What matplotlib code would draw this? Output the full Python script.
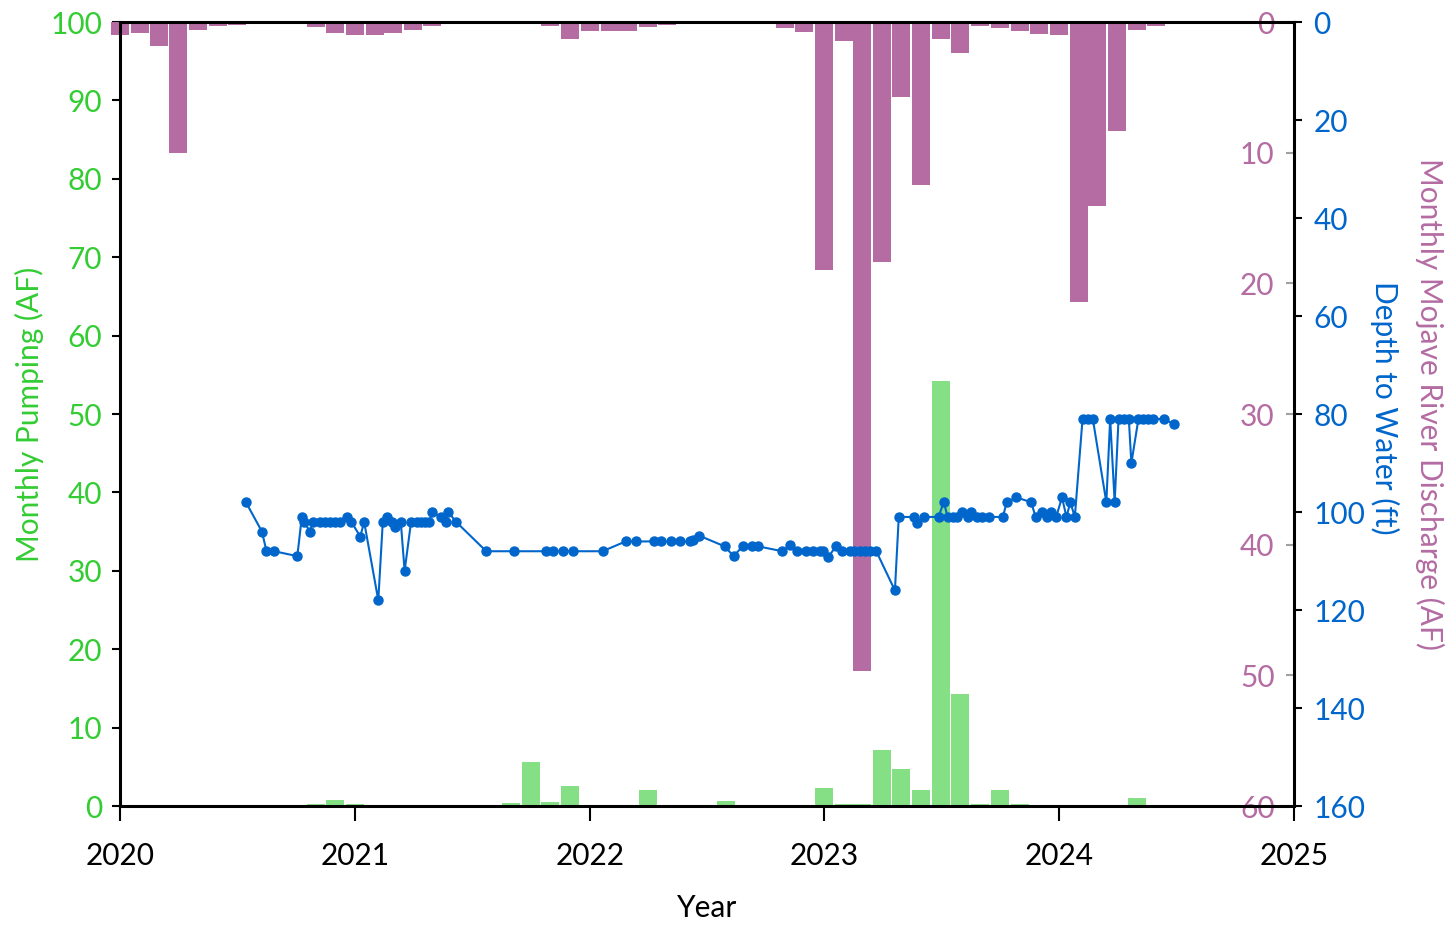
import numpy as np
import pandas as pd
import matplotlib
matplotlib.use("Agg")
import matplotlib.pyplot as plt
import matplotlib.dates as mdates

plt.rcParams['font.family'] = ['Lato', 'DejaVu Sans']

# monthly totals, Jan 2020 - Jun 2024
months = pd.date_range('2020-01-01', '2024-06-01', freq='MS')

pumping = [
    0, 0, 0, 0, 0, 0, 0, 0, 0, 0, 0.2, 0.73,           # 2020
    0.2, 0, 0, 0, 0, 0, 0, 0, 0.35, 5.6, 0.47, 2.5,     # 2021
    0, 0, 0, 2.1, 0, 0, 0, 0.6, 0, 0, 0, 0,             # 2022
    2.25, 0.2, 0.3, 7.2, 4.7, 2.1, 54.2, 14.25, 0.2, 2.0, 0.2, 0,  # 2023
    0, 0, 0, 0, 1.0, 0,                                 # 2024
]

discharge = [
    1.0, 0.8, 1.8, 10.0, 0.6, 0.3, 0.2, 0.05, 0.05, 0.05, 0.4, 0.8,
    1.0, 1.0, 0.8, 0.6, 0.3, 0.05, 0.05, 0.05, 0.05, 0.05, 0.3, 1.33,
    0.66, 0.66, 0.66, 0.4, 0.2, 0.05, 0.05, 0.05, 0.05, 0.05, 0.43, 0.74,
    19.0, 1.43, 49.7, 18.4, 5.7, 12.45, 1.27, 2.4, 0.28, 0.43, 0.66, 0.9,
    0.97, 21.4, 14.05, 8.3, 0.59, 0.28,
]

# depth to water measurements (ft)
dtw_dates = [
    '2020-07-15', '2020-08-09', '2020-08-16', '2020-08-28', '2020-10-03', '2020-10-10',
    '2020-10-13', '2020-10-23', '2020-10-27', '2020-11-07', '2020-11-15', '2020-11-23',
    '2020-11-30', '2020-12-08', '2020-12-19', '2020-12-26', '2021-01-09', '2021-01-15',
    '2021-02-06', '2021-02-13', '2021-02-20', '2021-02-27', '2021-03-04', '2021-03-13',
    '2021-03-19', '2021-03-29', '2021-04-07', '2021-04-14', '2021-04-19', '2021-04-26',
    '2021-05-01', '2021-05-14', '2021-05-22', '2021-05-26', '2021-06-07', '2021-07-24',
    '2021-09-05', '2021-10-25', '2021-11-05', '2021-11-20', '2021-12-06', '2022-01-21',
    '2022-02-26', '2022-03-14', '2022-04-11', '2022-04-22', '2022-05-07', '2022-05-21',
    '2022-06-06', '2022-06-11', '2022-06-20', '2022-07-30', '2022-08-13', '2022-08-27',
    '2022-09-11', '2022-09-20', '2022-10-28', '2022-11-09', '2022-11-19', '2022-12-04',
    '2022-12-15', '2022-12-25', '2022-12-30', '2023-01-07', '2023-01-20', '2023-01-28',
    '2023-02-10', '2023-02-17', '2023-02-25', '2023-03-05', '2023-03-13', '2023-03-23',
    '2023-04-21', '2023-04-27', '2023-05-20', '2023-05-26', '2023-06-06', '2023-06-28',
    '2023-07-06', '2023-07-12', '2023-07-20', '2023-07-26', '2023-08-04', '2023-08-12',
    '2023-08-18', '2023-08-26', '2023-09-04', '2023-09-15', '2023-10-06', '2023-10-12',
    '2023-10-27', '2023-11-19', '2023-11-26', '2023-12-06', '2023-12-14', '2023-12-20',
    '2023-12-28', '2024-01-06', '2024-01-13', '2024-01-19', '2024-01-26', '2024-02-07',
    '2024-02-15', '2024-02-23', '2024-03-15', '2024-03-21', '2024-03-28', '2024-04-03',
    '2024-04-11', '2024-04-19', '2024-04-23', '2024-05-04', '2024-05-11', '2024-05-19',
    '2024-05-26', '2024-06-12', '2024-06-28',
]
dtw = [
    98, 104, 108, 108, 109, 101,
    102, 104, 102, 102, 102, 102,
    102, 102, 101, 102, 105, 102,
    118, 102, 101, 102, 103, 102,
    112, 102, 102, 102, 102, 102,
    100, 101, 102, 100, 102, 108,
    108, 108, 108, 108, 108, 108,
    106, 106, 106, 106, 106, 106,
    106, 105.7, 104.8, 107, 109, 107,
    107, 107, 108, 106.8, 108, 108,
    108, 108, 108, 109.2, 106.9, 108,
    108, 108, 108, 108, 108, 108,
    116, 101, 101, 102.2, 101, 101,
    97.9, 101, 101, 101, 100, 101,
    100, 101, 101, 101, 101, 98,
    97, 98, 101, 100, 101, 100,
    101, 97, 101, 98, 101, 81,
    81, 81, 98, 81, 98, 81,
    81, 81, 90, 81, 81, 81,
    81, 81, 82,
]

green = '#85E085'
purple = '#B46CA3'
blue = '#0066CC'
green_txt = '#33CC33'
fs = 21.5

fig = plt.figure(figsize=(14.56, 9.27), dpi=100)
ax = fig.add_axes([0.0824, 0.1305, 0.8063, 0.8457])
ax2 = ax.twinx()
ax3 = ax.twinx()

# pumping bars (left axis)
ax.bar(months, pumping, width=28, color=green, align='center')
ax.set_ylim(0, 100)
ax.set_yticks(np.arange(0, 101, 10))
ax.tick_params(axis='y', colors='black', labelcolor=green_txt, labelsize=fs,
               direction='out', length=6, width=1.5, pad=7)
ax.set_ylabel('Monthly Pumping (AF)', color=green_txt, fontsize=fs, labelpad=4)

ax.set_xlim(pd.Timestamp('2020-01-01'), pd.Timestamp('2025-01-01'))
ax.xaxis.set_major_locator(mdates.YearLocator())
ax.xaxis.set_major_formatter(mdates.DateFormatter('%Y'))
ax.tick_params(axis='x', labelsize=fs, direction='out', length=11, width=1.5, pad=15)
ax.set_xlabel('Year', fontsize=fs, labelpad=17)
for s in ax.spines.values():
    s.set_visible(False)

# river discharge hanging from top (inverted axis, labels inside right edge)
ax2.bar(months, discharge, width=28, color=purple, align='center', clip_on=False)
ax2.set_ylim(60, 0)
ax2.set_yticks(np.arange(0, 61, 10))
ax2.yaxis.set_ticks_position('left')
ax2.yaxis.set_label_position('left')
ax2.spines['left'].set_position(('axes', 1.0))
ax2.tick_params(axis='y', colors='#A0A0A0', labelcolor=purple, labelsize=fs,
                direction='out', length=6, width=1.5, pad=8)
for s in ax2.spines.values():
    s.set_visible(False)

# depth to water line (outer right axis)
ax3.plot(pd.to_datetime(dtw_dates), dtw, color=blue, lw=1.5, marker='o', ms=6.5)
ax3.set_ylim(160, 0)
ax3.set_yticks(np.arange(0, 161, 20))
ax3.tick_params(axis='y', colors='black', labelcolor=blue, labelsize=fs,
                direction='out', length=6, width=1.5, pad=8)
for s in ax3.spines.values():
    s.set_linewidth(2.2)
    s.set_color('black')

fig.text(0.951, 0.56, 'Depth to Water (ft)', color=blue, fontsize=fs,
         rotation=270, ha='center', va='center')
fig.text(0.982, 0.564, 'Monthly Mojave River Discharge (AF)', color=purple, fontsize=fs,
         rotation=270, ha='center', va='center')

fig.savefig('out.png', dpi=100)
